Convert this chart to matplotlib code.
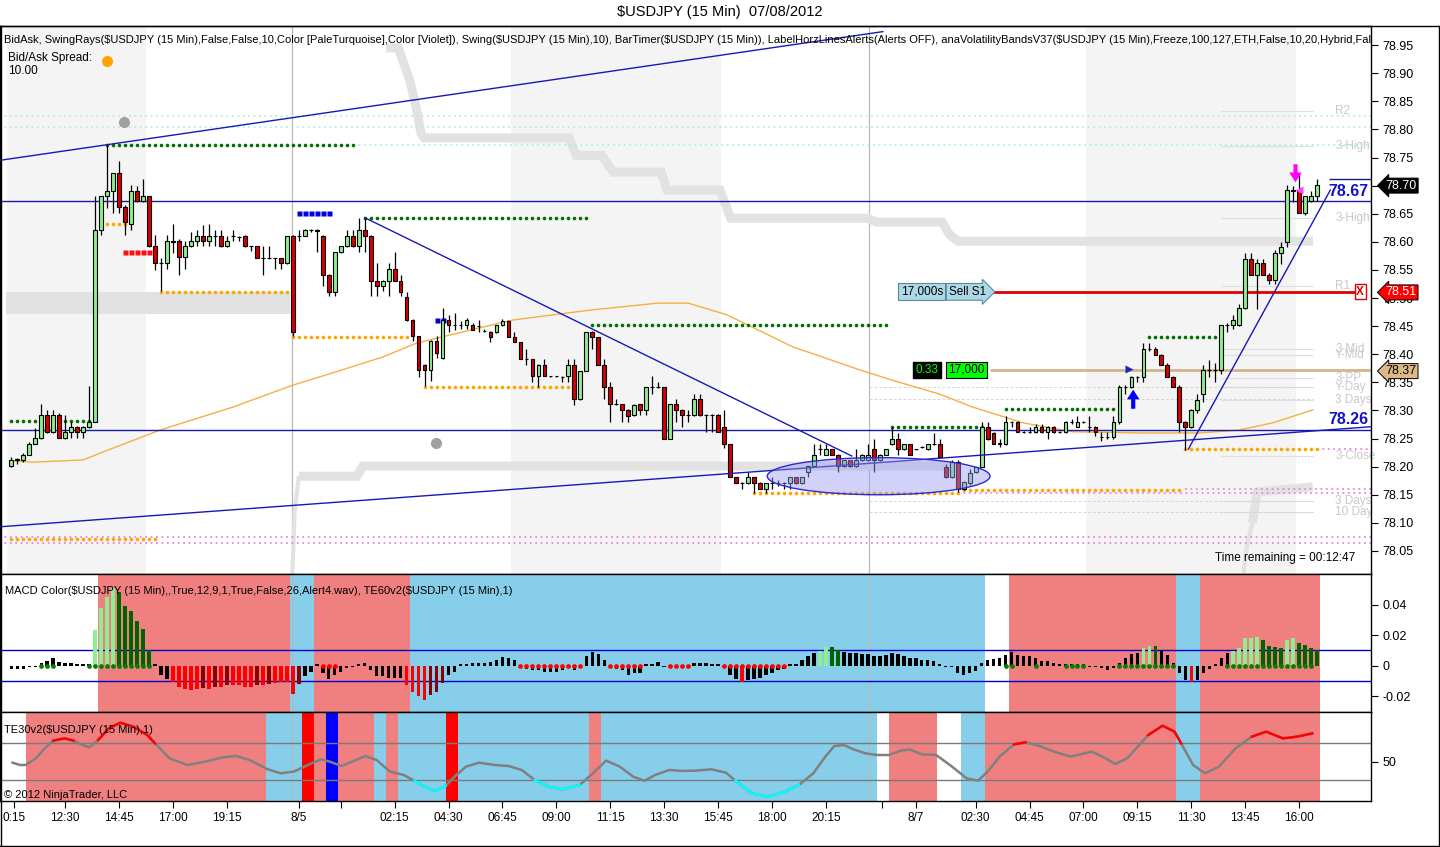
import numpy as np
import matplotlib
matplotlib.use("Agg")
import matplotlib.pyplot as plt
from matplotlib.patches import Ellipse
from matplotlib.lines import Line2D

plt.rcParams['font.family'] = ['Liberation Sans', 'DejaVu Sans']

# ---------------- data ----------------
opens = [78.201,78.211,78.211,78.221,78.241,78.251,78.292,78.261,78.292,78.251,78.261,78.270,78.261,78.270,78.280,78.621,78.681,78.691,78.722,78.662,
         78.632,78.691,78.672,78.681,78.592,78.562,78.562,78.601,78.601,78.573,78.592,78.602,78.611,78.602,78.611,78.611,78.592,78.611,78.609,78.611,
         78.592,78.592,78.571,78.571,78.571,78.571,78.562,78.611,78.611,78.611,78.621,78.621,78.611,78.541,78.510,78.582,78.592,78.611,78.592,78.621,
         78.611,78.531,78.521,78.531,78.551,78.531,78.502,78.461,78.432,78.381,78.372,78.423,78.393,78.461,78.452,78.452,78.452,78.452,78.450,78.442,
         78.440,78.440,78.452,78.460,78.430,78.421,78.391,78.391,78.361,78.381,78.361,78.361,78.360,78.361,78.381,78.320,78.371,78.440,78.430,78.381,
         78.341,78.311,78.311,78.301,78.292,78.311,78.301,78.341,78.341,78.341,78.250,78.311,78.301,78.292,78.292,78.320,78.292,78.292,78.292,78.271,
         78.240,78.181,78.171,78.171,78.181,78.171,78.161,78.171,78.171,78.171,78.171,78.181,78.171,78.191,78.201,78.231,78.221,78.231,78.221,78.201,
         78.211,78.201,78.211,78.211,78.231,78.211,78.221,78.240,78.250,78.231,78.240,78.231,78.235,78.231,78.240,78.241,78.200,78.182,78.209,78.161,
         78.171,78.191,78.200,78.271,78.259,78.241,78.241,78.280,78.280,78.262,78.262,78.262,78.271,78.262,78.271,78.262,78.262,78.280,78.271,78.280,
         78.271,78.271,78.253,78.253,78.253,78.280,78.342,78.342,78.360,78.360,78.410,78.410,78.398,78.381,78.360,78.342,78.280,78.271,78.301,78.330,
         78.372,78.372,78.372,78.452,78.452,78.452,78.482,78.570,78.541,78.562,78.541,78.532,78.581,78.600,78.692,78.692,78.651,78.672,78.681]
highs = [78.217,78.215,78.224,78.243,78.268,78.312,78.300,78.300,78.295,78.292,78.280,78.272,78.272,78.343,78.681,78.681,78.773,78.722,78.743,78.665,
         78.701,78.700,78.711,78.681,78.612,78.571,78.612,78.632,78.605,78.601,78.618,78.621,78.630,78.631,78.621,78.621,78.611,78.621,78.611,78.612,
         78.593,78.593,78.592,78.592,78.572,78.572,78.611,78.612,78.621,78.622,78.622,78.622,78.612,78.542,78.582,78.593,78.621,78.621,78.642,78.642,
         78.612,78.562,78.532,78.562,78.582,78.541,78.510,78.462,78.433,78.382,78.425,78.432,78.482,78.470,78.473,78.460,78.465,78.455,78.461,78.445,
         78.442,78.445,78.462,78.461,78.440,78.422,78.410,78.392,78.382,78.391,78.362,78.362,78.361,78.391,78.391,78.371,78.440,78.441,78.431,78.391,
         78.351,78.320,78.312,78.302,78.312,78.312,78.341,78.361,78.351,78.342,78.311,78.320,78.302,78.301,78.330,78.330,78.293,78.293,78.293,78.301,
         78.241,78.182,78.172,78.191,78.182,78.172,78.171,78.181,78.176,78.172,78.182,78.182,78.182,78.201,78.240,78.240,78.240,78.232,78.222,78.211,
         78.212,78.231,78.222,78.240,78.250,78.222,78.232,78.271,78.260,78.241,78.241,78.232,78.236,78.241,78.260,78.250,78.205,78.212,78.212,78.175,
         78.195,78.200,78.280,78.280,78.262,78.250,78.290,78.282,78.281,78.264,78.270,78.275,78.275,78.272,78.272,78.264,78.282,78.285,78.290,78.282,
         78.290,78.272,78.262,78.262,78.290,78.345,78.345,78.362,78.361,78.420,78.420,78.412,78.400,78.385,78.362,78.345,78.282,78.302,78.330,78.380,
         78.390,78.385,78.452,78.455,78.470,78.490,78.581,78.581,78.570,78.570,78.545,78.585,78.600,78.701,78.700,78.722,78.681,78.690,78.711]
lows = [78.200,78.205,78.209,78.221,78.241,78.250,78.259,78.259,78.251,78.250,78.251,78.251,78.251,78.268,78.280,78.612,78.660,78.651,78.651,78.612,
        78.621,78.670,78.670,78.590,78.550,78.512,78.551,78.580,78.541,78.551,78.590,78.592,78.592,78.592,78.592,78.590,78.590,78.602,78.602,78.590,
        78.583,78.571,78.541,78.570,78.551,78.551,78.561,78.432,78.602,78.610,78.618,78.582,78.521,78.503,78.503,78.580,78.590,78.590,78.582,78.582,
        78.503,78.503,78.512,78.503,78.530,78.503,78.460,78.423,78.360,78.343,78.352,78.393,78.392,78.440,78.443,78.445,78.445,78.443,78.440,78.440,
        78.421,78.438,78.450,78.430,78.421,78.391,78.381,78.351,78.341,78.361,78.360,78.360,78.351,78.351,78.310,78.318,78.370,78.410,78.381,78.320,
        78.280,78.310,78.280,78.280,78.290,78.292,78.292,78.330,78.340,78.250,78.250,78.280,78.271,78.280,78.290,78.290,78.262,78.262,78.262,78.233,
        78.182,78.171,78.161,78.170,78.153,78.161,78.153,78.161,78.166,78.161,78.161,78.170,78.170,78.182,78.199,78.221,78.220,78.220,78.191,78.200,
        78.200,78.200,78.210,78.210,78.191,78.210,78.220,78.238,78.221,78.230,78.221,78.230,78.234,78.230,78.238,78.218,78.180,78.180,78.155,78.158,
        78.168,78.189,78.199,78.248,78.241,78.235,78.238,78.270,78.262,78.260,78.260,78.260,78.260,78.250,78.260,78.260,78.260,78.275,78.270,78.278,
        78.262,78.255,78.245,78.250,78.250,78.275,78.330,78.340,78.350,78.350,78.405,78.398,78.381,78.360,78.342,78.262,78.230,78.268,78.295,78.315,
        78.360,78.350,78.365,78.440,78.445,78.450,78.480,78.541,78.480,78.541,78.525,78.525,78.560,78.590,78.670,78.651,78.648,78.670,78.672]
closes = [78.211,78.213,78.221,78.241,78.251,78.292,78.261,78.292,78.251,78.261,78.270,78.261,78.270,78.280,78.621,78.681,78.691,78.722,78.662,78.636,
          78.691,78.672,78.681,78.592,78.562,78.563,78.601,78.600,78.573,78.592,78.601,78.611,78.602,78.611,78.610,78.592,78.601,78.611,78.609,78.592,
          78.592,78.571,78.571,78.571,78.571,78.562,78.611,78.440,78.611,78.621,78.621,78.620,78.541,78.510,78.582,78.592,78.611,78.592,78.621,78.611,
          78.531,78.521,78.531,78.551,78.531,78.510,78.461,78.432,78.372,78.372,78.423,78.402,78.461,78.452,78.452,78.452,78.461,78.443,78.450,78.442,
          78.430,78.452,78.460,78.430,78.421,78.391,78.391,78.361,78.381,78.361,78.361,78.361,78.360,78.381,78.320,78.371,78.440,78.430,78.381,78.341,
          78.311,78.311,78.301,78.290,78.310,78.301,78.341,78.341,78.341,78.250,78.311,78.301,78.292,78.292,78.320,78.292,78.292,78.292,78.262,78.240,
          78.182,78.171,78.171,78.181,78.171,78.161,78.171,78.171,78.171,78.171,78.181,78.171,78.181,78.201,78.221,78.231,78.231,78.221,78.201,78.211,
          78.201,78.211,78.221,78.221,78.211,78.221,78.231,78.250,78.231,78.240,78.221,78.231,78.235,78.240,78.240,78.218,78.182,78.209,78.161,78.173,
          78.189,78.200,78.271,78.250,78.241,78.241,78.280,78.280,78.262,78.262,78.262,78.271,78.262,78.271,78.262,78.262,78.280,78.280,78.280,78.280,
          78.271,78.262,78.253,78.253,78.280,78.342,78.342,78.360,78.360,78.410,78.410,78.398,78.381,78.360,78.342,78.280,78.271,78.301,78.319,78.372,
          78.372,78.372,78.452,78.452,78.461,78.482,78.570,78.541,78.562,78.541,78.532,78.581,78.591,78.692,78.690,78.651,78.681,78.681,78.701]

macd_hist = [-0.002,-0.002,-0.002,-0.0005,-0.0005,0.002,0.003,0.005,0.0025,0.002,0.0015,0.0013,0.001,0.001,0.0234,0.038,0.045,0.0507,0.0485,0.039,
             0.036,0.029,0.024,0.010,0.001,-0.006,-0.009,-0.011,-0.014,-0.015,-0.016,-0.0155,-0.0148,-0.015,-0.014,-0.014,-0.0127,-0.013,-0.0127,-0.014,
             -0.0138,-0.013,-0.0127,-0.012,-0.0116,-0.011,-0.0105,-0.0186,-0.012,-0.007,-0.004,0.0,-0.005,-0.009,-0.006,-0.004,-0.0015,-0.001,0.0008,0.0015,
             -0.003,-0.007,-0.007,-0.008,-0.008,-0.008,-0.0127,-0.017,-0.020,-0.0225,-0.019,-0.017,-0.0116,-0.006,-0.004,0.0,0.0013,0.0015,0.0015,0.002,
             0.0025,0.004,0.0055,0.005,0.004,-0.0007,-0.002,-0.003,-0.003,-0.004,-0.004,-0.004,-0.003,-0.0013,-0.003,-0.0013,0.006,0.0087,0.0077,0.004,
             -0.001,-0.002,-0.003,-0.006,-0.0045,-0.0045,0.0,0.001,0.0025,-0.0002,-0.0005,-0.0005,-0.0005,-0.0005,0.002,0.0017,0.0015,0.0013,0.0,-0.001,
             -0.006,-0.0088,-0.0105,-0.0094,-0.009,-0.0083,-0.006,-0.0046,-0.003,-0.002,0.0,0.0013,0.0035,0.0066,0.0085,0.0098,0.0122,0.012,0.010,0.0092,
             0.008,0.008,0.0079,0.0077,0.0066,0.0066,0.007,0.008,0.0075,0.0066,0.0052,0.0048,0.0035,0.0035,0.003,0.0013,-0.0007,-0.001,-0.005,-0.006,
             -0.005,-0.0035,0.002,0.0037,0.0044,0.0048,0.007,0.0087,0.007,0.0063,0.006,0.0048,0.0033,0.003,0.002,0.001,0.001,0.0013,0.001,0.001,
             -0.0002,-0.0006,-0.0017,-0.003,-0.0013,0.002,0.0048,0.0077,0.0085,0.0118,0.013,0.0127,0.0094,0.007,0.002,-0.0046,-0.0095,-0.0105,-0.0094,-0.005,
             -0.0024,0.0,0.0048,0.008,0.0098,0.0118,0.018,0.0184,0.0185,0.0168,0.0129,0.0125,0.0118,0.0168,0.0184,0.015,0.0136,0.0114,0.0105]
macd_dots = [(5, 7, 'g'), (13, 23, 'g'), (52, 54, 'r'), (85, 95, 'r'), (100, 105, 'r'), (110, 113, 'r'), (119, 129, 'r'),
             (166, 167, 'g'), (171, 171, 'g'), (176, 179, 'g'), (185, 194, 'g'), (203, 217, 'g')]
macd_bg = [(15, 46, 'lr'), (47, 50, 'sb'), (51, 66, 'lr'), (67, 162, 'sb'), (167, 194, 'lr'), (195, 198, 'sb'), (199, 218, 'lr')]

te_bars = [0.2,1.5,2.4,4.1,5.6,7.0,8.9,10.4,11.9,13.0,14.5,16.3,18.2,20.4,22.7,24.0,26.4,29.4,32.4,35.3,37.6,39.8,42.8,45.0,47.2,49.5,51.7,53.2,55.1,56.9,
           59.1,61.0,63.2,65.5,67.3,69.2,70.7,72.5,74.0,75.9,78.1,80.7,83.0,85.2,87.4,89.7,91.9,94.9,97.1,99.3,101.6,103.8,105.7,107.5,109.8,112.0,114.2,116.9,119.3,120.9,
           123.6,126.4,129.1,131.5,133.9,135.9,137.4,139.0,140.6,142.6,144.5,146.5,148.5,150.0,152.0,154.4,156.7,159.5,161.4,163.0,165.0,167.4,169.3,171.7,174.1,176.8,180.4,182.7,184.3,186.3,
           187.8,189.8,192.2,194.2,195.3,197.3,199.3,201.6,204.4,207.1,209.5,212.3,214.6,217.2]
te_vals = [49.1,46.6,46.6,53.8,64.6,72.9,75.4,72.9,68.2,65.7,73.6,86.2,92.3,88.0,79.0,70.0,53.8,46.6,50.2,54.9,56.3,52.0,41.9,37.6,39.5,46.6,52.7,50.2,45.5,50.2,
           56.3,52.0,39.5,35.8,29.6,22.4,18.5,23.8,34.0,44.8,49.1,46.6,45.5,41.2,30.4,23.1,20.3,25.0,37.6,51.3,44.8,34.0,29.6,35.8,41.2,40.2,40.5,41.9,38.3,29.6,
           15.9,12.3,17.7,25.0,37.6,55.6,67.1,68.2,63.5,59.2,57.4,57.4,62.1,63.5,58.1,57.4,46.6,32.2,29.6,39.5,55.6,68.9,71.1,67.1,61.0,55.6,61.0,53.8,47.7,53.8,
           64.6,79.0,89.1,82.6,70.0,46.6,37.6,44.8,64.6,77.2,82.6,75.4,77.2,80.8]
te_bg = [(3, 42, 'lr'), (43, 48, 'sb'), (49, 50, 'r'), (51, 52, 'lr'), (53, 54, 'b'), (55, 60, 'lr'), (61, 62, 'sb'), (63, 64, 'lr'),
         (65, 72, 'sb'), (73, 74, 'r'), (75, 96, 'sb'), (97, 98, 'lr'), (99, 144, 'sb'), (147, 154, 'lr'), (159, 162, 'sb'),
         (163, 194, 'lr'), (195, 198, 'sb'), (199, 218, 'lr')]

ma_bars = [0, 3.6, 12, 14.8, 24.8, 37, 47, 53.7, 62, 67.7, 78.2, 83.8, 97, 108, 113, 119.5, 130.5, 141.7, 147, 155, 160.5, 168.9, 177.2, 188.4, 198.4, 205, 210.6, 217.3]
ma_vals = [78.210, 78.208, 78.212, 78.224, 78.265, 78.306, 78.345, 78.367, 78.395, 78.420, 78.447, 78.461, 78.479, 78.491, 78.491, 78.470, 78.413,
           78.372, 78.354, 78.329, 78.306, 78.278, 78.262, 78.260, 78.260, 78.265, 78.278, 78.301]

band_top = [(62.6, 78.945), (64.6, 78.945), (66.5, 78.888), (67.7, 78.834), (68.4, 78.793), (68.9, 78.785), (93.1, 78.785), (94.3, 78.754),
            (98.6, 78.754), (100.5, 78.724), (108.5, 78.724), (109.5, 78.692), (118.3, 78.692), (120.1, 78.642), (143.0, 78.642), (144.4, 78.635),
            (155.4, 78.635), (156.7, 78.612), (158.1, 78.601), (217.3, 78.601)]
band_low = [(48.0, 78.183), (57.7, 78.183), (58.7, 78.201), (156.7, 78.201)]
band_low_edge = [(46.9, 78.00), (47.3, 78.12), (48.0, 78.183)]
band_right = [(207.2, 78.100), (208.0, 78.155), (217.3, 78.164)]
band_right_edge = [(205.6, 78.00), (206.3, 78.06), (207.2, 78.100)]
band_mid = (-0.9, 46.5, 78.471, 78.510)

swing_dots = [(16, 57, 78.773, 'g'), (59, 96, 78.643, 'g'), (97, 146, 78.452, 'g'), (0, 13, 78.281, 'g'), (147, 162, 78.271, 'g'),
              (166, 184, 78.302, 'g'), (190, 202, 78.431, 'g'),
              (16, 19, 78.632, 'o'), (25, 46, 78.511, 'o'), (47, 66, 78.431, 'o'), (69, 93, 78.342, 'o'), (124, 158, 78.153, 'o'),
              (159, 195, 78.159, 'o'), (196, 218, 78.231, 'o'), (0, 24, 78.071, 'o')]
swing_squares = [(19, 23, 78.582, 'r'), (48, 53, 78.652, 'b'), (71, 72, 78.461, 'b')]
rays_turq = [(-2, 78.824), (-2, 78.804), (57, 78.772)]
rays_violet = [(-2, 78.075), (-2, 78.064), (158, 78.153), (196, 78.160), (218, 78.231)]

trend_lines = [(-1.9, 78.745, 145.5, 78.974), (59, 78.643, 140.3, 78.219), (-1.9, 78.093, 227, 78.271), (196.5, 78.231, 220.2, 78.692)]
horz_lines = [78.672, 78.266]
horz_labels = ['78.67', '78.26']

pivot_names = ['R2', '3-High', '3-High', 'R1', '3-Mid', 'Y-Mid', '3-PP', 'Y-Day', '3 Days', '3-Close', '3 Days', '10 Day']
pivot_prices = [78.833, 78.770, 78.642, 78.521, 78.409, 78.399, 78.358, 78.342, 78.319, 78.219, 78.139, 78.119]
faint_dashed = [78.342, 78.321, 78.139, 78.119]

session_shade = [(-0.7, 22.5), (83.5, 118.5), (179.5, 214.5)]
day_breaks = [46.9, 143.2]

tick_bars = [0.4, 9, 18, 27, 36, 48, 55, 64, 73, 82, 91, 100, 109, 118, 127, 136, 145.3, 151, 161, 170, 179, 188, 197, 206, 215]
tick_labels = ['0:15', '12:30', '14:45', '17:00', '19:15', '8/5', '', '02:15', '04:30', '06:45', '09:00', '11:15', '13:30', '15:45',
               '18:00', '20:15', '', '8/7', '02:30', '04:45', '07:00', '09:15', '11:30', '13:45', '16:00']

# price-axis boxes: (price, text, face, text colour)
axis_boxes = [(78.70, '78.70', 'black', 'white'), (78.51, '78.51', '#FF0000', 'white'), (78.37, '78.37', '#DEB887', 'black')]

# ---------------- figure ----------------
W, H = 1440, 847
fig = plt.figure(figsize=(W / 100, H / 100), dpi=100)


def fy(y):
    return 1 - y / H


RIGHT = 1371 / W
ax = fig.add_axes([0, fy(574), RIGHT, (574 - 26) / H])
am = fig.add_axes([0, fy(712), RIGHT, (712 - 574) / H], sharex=ax)
at = fig.add_axes([0, fy(801), RIGHT, (801 - 712) / H], sharex=ax)

ax.set_xlim(-1.886, 227.0)
ax.set_ylim(78.009, 78.984)

bgc = {'lr': '#F08080', 'sb': '#87CEEB', 'r': '#FF0000', 'b': '#0000FF'}
BAND = '#e2e2e2'

# session shading and day breaks
for a, b in session_shade:
    ax.axvspan(a, b, color='#f4f4f4', zorder=0, lw=0)
for a_ in (ax, am, at):
    for d in day_breaks:
        a_.axvline(d, color='#b8b8b8', lw=0.9, zorder=0.5)

# volatility bands (gray)
for band in (band_top, band_low, band_right):
    bx, by = zip(*band)
    ax.plot(bx, by, color=BAND, lw=6.5, solid_capstyle='butt', solid_joinstyle='miter', zorder=1)
for band in (band_low_edge, band_right_edge):
    bx, by = zip(*band)
    ax.plot(bx, by, color=BAND, lw=3, solid_capstyle='butt', zorder=1)
ax.fill_between([band_mid[0], band_mid[1]], band_mid[2], band_mid[3], color=BAND, lw=0, zorder=1)

# swing rays
for b0, p in rays_turq:
    ax.hlines(p, b0, 228, color='#AFEEEE', lw=1.3, linestyles=(0, (1, 2)), zorder=1.5)
for b0, p in rays_violet:
    ax.hlines(p, b0, 228, color='#EE82EE', lw=1.3, linestyles=(0, (1, 2)), zorder=1.5)

# faint pivot lines & labels
ax.hlines(pivot_prices, 202, 217.3, color='#dedede', lw=0.8, zorder=1.2)
ax.hlines(faint_dashed, 143.2, 217.3, color='#d6d6d6', lw=0.7, linestyles=(0, (3, 2)), zorder=1.2)
for name, p in zip(pivot_names, pivot_prices):
    ax.text(221.0, p, name, color='#c8c8c8', fontsize=8.5, va='center', ha='left', zorder=1.3)

# moving average
ax.plot(ma_bars, ma_vals, color='#F5B041', lw=1.0, zorder=2)

# horizontal lines
ax.hlines(horz_lines, -2, 228, color='#1a1aa0', lw=1.0, zorder=2.2)
ax.hlines(78.511, 163.4, 224.8, color='#E00000', lw=2, zorder=2.3)
ax.hlines(78.372, 163.4, 228, color='#D2B48C', lw=2, zorder=2.3)
ax.hlines(78.711, 220.0, 228, color='#1a1a80', lw=1, zorder=2.3)

# swing dots
dcol = {'g': '#006e00', 'o': '#FFA500', 'r': '#FF1010', 'b': '#0000E0'}
for b0, b1, p, c in swing_dots:
    xs = np.arange(b0, b1 + 1)
    ax.plot(xs, np.full(len(xs), p), 'o', ms=2.6, color=dcol[c], mec='none', zorder=3)
for b0, b1, p, c in swing_squares:
    xs = np.arange(b0, b1 + 1)
    ax.plot(xs, np.full(len(xs), p), 's', ms=3.6, color=dcol[c], mec='none', zorder=3)

# candles
o = np.array(opens); h = np.array(highs); l = np.array(lows); c = np.array(closes)
idx = np.arange(len(o))
ax.vlines(idx, l, h, color='black', lw=0.9, zorder=4)
body_col = np.where(c > o + 0.0005, '#90EE90', np.where(c < o - 0.0005, '#D40000', 'black'))
bottoms = np.minimum(o, c)
heights = np.maximum(np.abs(c - o), 0.0002)
ax.bar(idx, heights, bottom=bottoms, width=0.62, color=body_col, edgecolor='black', lw=0.8, zorder=4.5)

# trend lines
for b0, p0, b1, p1 in trend_lines:
    ax.plot([b0, b1], [p0, p1], color='#1818B8', lw=1.0, zorder=5)

# ellipse
ax.add_patch(Ellipse((144.8, 78.183), 37.2, 0.066, fc=(0.6, 0.6, 0.96, 0.45), ec='#2a2ad0', lw=1, zorder=6))

# markers
ax.plot([18.8, 70.9], [78.813, 78.242], 'o', ms=8, color='#a0a0a0', mec='none', zorder=3)
ax.annotate('', xy=(214.4, 78.706), xytext=(214.4, 78.738),
            arrowprops=dict(facecolor='#FF00FF', edgecolor='none', width=3, headwidth=9, headlength=7), zorder=7)
ax.plot(215.0, 78.693, '<', ms=6, color='#FF40FF', mec='none', zorder=7)
ax.annotate('', xy=(187.3, 78.337), xytext=(187.3, 78.303),
            arrowprops=dict(facecolor='#0000FF', edgecolor='none', width=3, headwidth=9, headlength=7), zorder=7)
ax.plot(186.6, 78.374, '>', ms=6, color='#2020C0', mec='none', zorder=7)

# labels on the lines
for p, lab in zip(horz_lines, horz_labels):
    ax.text(226.5, p + 0.017, lab, color='#1212C8', fontsize=11.5, fontweight='bold', ha='right', va='center', zorder=8)
ax.text(152.0, 78.511, '17,000s', fontsize=8.5, ha='center', va='center', zorder=8,
        bbox=dict(boxstyle='square,pad=0.2', fc='#ADD8E6', ec='#5a8aa0', lw=0.8))
ax.text(159.6, 78.511, 'Sell S1', fontsize=8.5, ha='center', va='center', zorder=8,
        bbox=dict(boxstyle='rarrow,pad=0.2', fc='#ADD8E6', ec='#5a8aa0', lw=0.8))
ax.text(152.9, 78.372, '0.33', fontsize=8.5, ha='center', va='center', color='#00FF00', zorder=8,
        bbox=dict(boxstyle='square,pad=0.2', fc='black', ec='black'))
ax.text(159.4, 78.372, '17,000', fontsize=8.5, ha='center', va='center', color='black', zorder=8,
        bbox=dict(boxstyle='square,pad=0.2', fc='#00FF00', ec='black', lw=0.8))
ax.text(225.2, 78.511, 'X', fontsize=8.5, fontweight='bold', ha='center', va='center', color='#E00000', zorder=8,
        bbox=dict(boxstyle='square,pad=0.12', fc='white', ec='#E00000', lw=1))

# price boxes on the axis
yt = ax.get_yaxis_transform()
for p, txt, fc, tc in axis_boxes:
    ax.text(1.0105, p, txt, transform=yt, fontsize=9, ha='left', va='center', color=tc, zorder=9, clip_on=False,
            bbox=dict(boxstyle='larrow,pad=0.12', fc=fc, ec='black', lw=0.7))

# texts
ind_text = ("BidAsk, SwingRays($USDJPY (15 Min),False,False,10,Color [PaleTurquoise],Color [Violet]), Swing($USDJPY (15 Min),10), "
            "BarTimer($USDJPY (15 Min)), LabelHorzLinesAlerts(Alerts OFF), anaVolatilityBandsV37($USDJPY (15 Min),Freeze,100,127,ETH,"
            "False,10,20,Hybrid,False,10")
ax.text(0.003, 0.974, ind_text.replace('$', r'\$'), transform=ax.transAxes, fontsize=8, va='center', ha='left', clip_on=True, zorder=9)
ax.text(0.006, 0.9416, 'Bid/Ask Spread:', transform=ax.transAxes, fontsize=8.5, va='center', zorder=9)
ax.text(0.006, 0.918, '10.00', transform=ax.transAxes, fontsize=8.5, va='center', zorder=9)
ax.plot(0.078, 0.936, 'o', transform=ax.transAxes, ms=8, color='#FFA500', mec='none', zorder=9)
ax.text(0.9883, 0.029, 'Time remaining = 00:12:47', transform=ax.transAxes, fontsize=8.5, va='center', ha='right', zorder=9)

ax.yaxis.tick_right()
yticks = np.round(np.arange(78.05, 78.951, 0.05), 2)
ax.set_yticks(yticks)
# the 78.70 box sits exactly on that tick, so its plain label is left blank
ax.set_yticklabels(['' if abs(t - 78.70) < 1e-6 else '%.2f' % t for t in yticks])
ax.tick_params(axis='y', direction='out', length=5, labelsize=9, pad=3)
ax.tick_params(axis='x', bottom=False, labelbottom=False)

# ---------------- MACD panel ----------------
am.set_ylim(-0.0304, 0.0601)
for b0, b1, k in macd_bg:
    am.axvspan(b0 - 0.5, b1 + 0.5, color=bgc[k], lw=0, zorder=0)
v = np.array(macd_hist)
prev = np.concatenate([[0.0], v[:-1]])
cols = []
for val, pv in zip(v, prev):
    if abs(val) < 0.0096:
        cols.append('black')
    elif val > 0:
        cols.append('#90EE90' if val >= pv else '#006400')
    else:
        cols.append('#FF0000' if val <= pv + 0.0006 else '#8B0000')
vdraw = np.where(np.abs(v) < 0.0012, np.where(v < 0, -0.0012, 0.0012), v)
am.bar(idx[:len(v)], vdraw, width=0.58, color=cols, lw=0, zorder=3)
for b0, b1, k in macd_dots:
    xs = np.arange(b0, b1 + 1)
    am.plot(xs, np.zeros(len(xs)), 'o', ms=3.4, color='#008000' if k == 'g' else '#FF0000', mec='none', zorder=4)
am.axhline(0.01, color='#0000C8', lw=1, zorder=2)
am.axhline(-0.01, color='#0000C8', lw=1, zorder=2)
am.text(0.004, 0.877, 'MACD Color($USDJPY (15 Min),,True,12,9,1,True,False,26,Alert4.wav), TE60v2($USDJPY (15 Min),1)'.replace('$', r'\$'),
        transform=am.transAxes, fontsize=8, va='center', zorder=9)
am.yaxis.tick_right()
am.set_yticks([0.04, 0.02, 0, -0.02])
am.set_yticklabels(['0.04', '0.02', '0', '-0.02'])
am.tick_params(axis='y', direction='out', length=5, labelsize=9, pad=3)
am.tick_params(axis='x', bottom=False, labelbottom=False)

# ---------------- TE panel ----------------
at.set_ylim(7.66, 103.9)
for b0, b1, k in te_bg:
    at.axvspan(b0 - 0.5, b1 + 0.5, color=bgc[k], lw=0, zorder=0)
at.axhline(70, color='#7a7a7a', lw=1, zorder=1)
at.axhline(30, color='#7a7a7a', lw=1, zorder=1)
tb = np.array(te_bars); tv = np.array(te_vals)
at.plot(tb, tv, color='#808080', lw=1.8, zorder=3)
at.plot(tb, np.where(tv >= 68.5, tv, np.nan), color='#FF0000', lw=1.8, zorder=4)
at.plot(tb, np.where(tv <= 31, tv, np.nan), color='#00FFFF', lw=1.8, zorder=4)
at.text(0.003, 0.798, 'TE30v2($USDJPY (15 Min),1)'.replace('$', r'\$'), transform=at.transAxes, fontsize=8, va='center', zorder=9)
at.text(0.003, 0.067, '\u00a9 2012 NinjaTrader, LLC', transform=at.transAxes, fontsize=8, va='center', zorder=9)
at.yaxis.tick_right()
at.set_yticks([50])
at.set_yticklabels(['50'])
at.tick_params(axis='y', direction='out', length=5, labelsize=9, pad=3)
at.set_xticks(tick_bars)
at.set_xticklabels(tick_labels)
at.tick_params(axis='x', direction='out', length=5, labelsize=8.5, pad=3)

for a_ in (ax, am, at):
    for s in a_.spines.values():
        s.set_color('black')
        s.set_linewidth(1)

# outer frame
fig.add_artist(Line2D([0, 1], [fy(26), fy(26)], color='black', lw=1, transform=fig.transFigure))
fig.add_artist(Line2D([0, 1], [fy(846), fy(846)], color='black', lw=1, transform=fig.transFigure))
fig.add_artist(Line2D([0.0004, 0.0004], [fy(846), fy(26)], color='black', lw=1, transform=fig.transFigure))
fig.add_artist(Line2D([0.9994, 0.9994], [fy(846), fy(26)], color='black', lw=1, transform=fig.transFigure))

fig.text(0.5, fy(12), '$USDJPY (15 Min)  07/08/2012'.replace('$', r'\$'), ha='center', va='center', fontsize=10.5)

fig.savefig('out.png', dpi=100)
